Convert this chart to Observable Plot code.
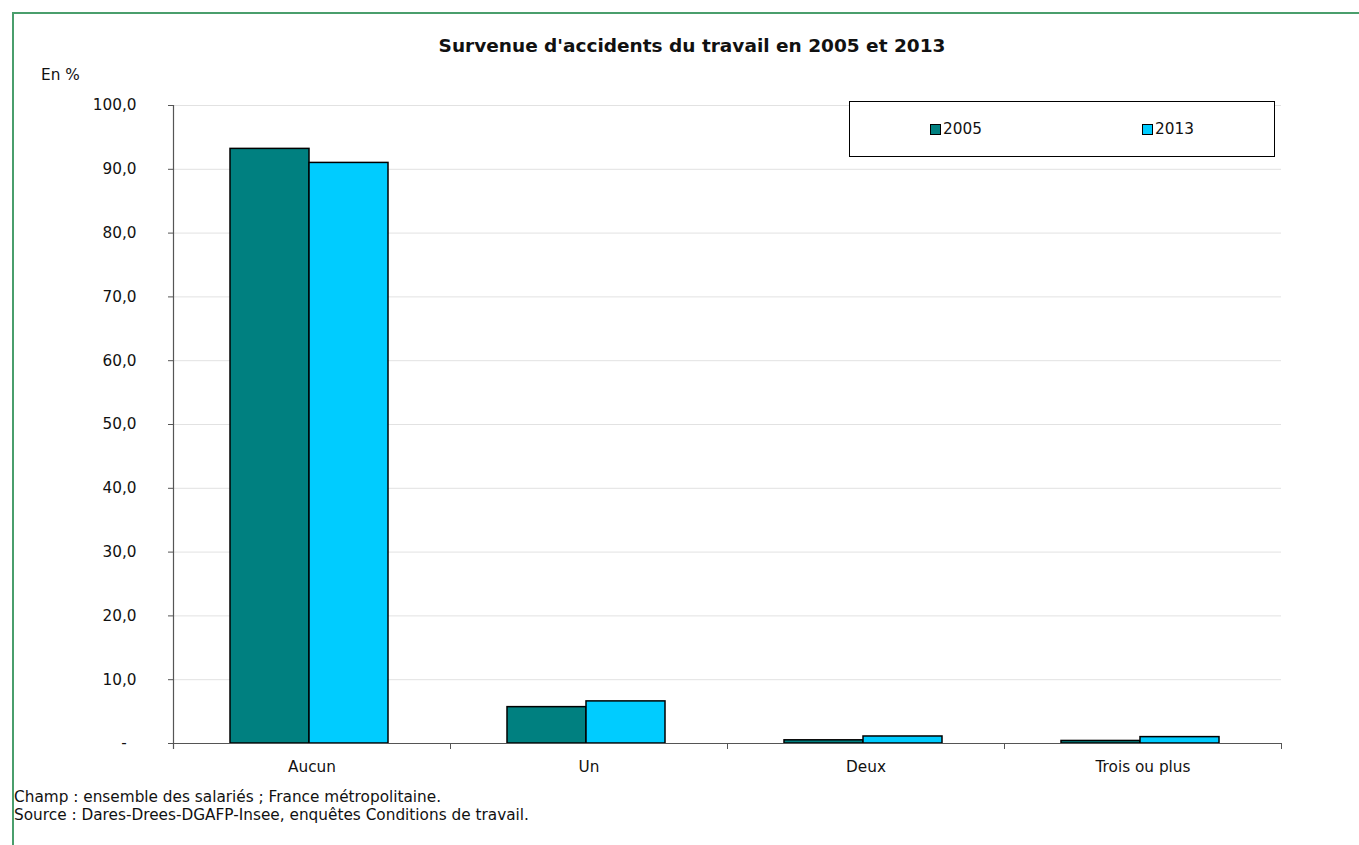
<!DOCTYPE html>
<html>
<head>
<meta charset="utf-8">
<script src="https://cdn.jsdelivr.net/npm/d3@7"></script>
<script src="https://cdn.jsdelivr.net/npm/@observablehq/plot@0.6"></script>
<style>
  html, body { margin: 0; padding: 0; overflow: hidden; background: #fff; }
  #wrap { position: relative; width: 1359px; height: 845px; font-family: "DejaVu Sans", Verdana, sans-serif; color: #111; }
  #wrap svg { position: absolute; left: 0; top: 0; }
  .abs { position: absolute; white-space: nowrap; }
  #title { left: 692px; top: 35px; transform: translateX(-50%); font-weight: bold; font-size: 18.5px; line-height: 22px; }
  #unit { left: 41px; top: 66px; font-size: 15.3px; line-height: 18px; }
  #legend { left: 849px; top: 101px; width: 424px; height: 54px; border: 1px solid #000; background: #fff; }
  .sw { position: absolute; top: 22px; width: 9px; height: 9px; border: 1px solid #000; }
  .lt { position: absolute; top: 18px; font-size: 15.3px; line-height: 18px; }
  .foot { left: 14px; font-size: 15.3px; line-height: 18px; }
  .gb { position: absolute; background: #4a9e6c; }
</style>
</head>
<body>
<div id="wrap"></div>
<script>
// ---- data ----
const categories = ["Aucun", "Un", "Deux", "Trois ou plus"];
const years = ["2005", "2013"];
const values2005 = [93.2, 5.7, 0.5, 0.4];
const values2013 = [91.0, 6.6, 1.1, 1.0];
const yTicks = [0, 10, 20, 30, 40, 50, 60, 70, 80, 90, 100];
const colors = ["#008080", "#00CCFF"];

const title = "Survenue d'accidents du travail en 2005 et 2013";
const unitLabel = "En %";
const notes = [
  "Champ : ensemble des salariés ; France métropolitaine.",
  "Source : Dares-Drees-DGAFP-Insee, enquêtes Conditions de travail."
];

const data = categories.flatMap((c, i) => [
  {cat: c, year: years[0], value: values2005[i]},
  {cat: c, year: years[1], value: values2013[i]}
]);

const W = 1359, H = 845;
const mTop = 105, mBottom = 102, mLeft = 172, mRight = 78;
const innerH = H - mTop - mBottom;
const axisColor = "#555";

const fmt = d => d === 0 ? "-\u00a0\u00a0" : d.toFixed(1).replace(".", ",");

const chart = Plot.plot({
  width: W,
  height: H,
  marginTop: mTop,
  marginBottom: mBottom,
  marginLeft: mLeft,
  marginRight: mRight,
  style: {background: "none", fontFamily: "DejaVu Sans, Verdana, sans-serif", fontSize: "15.3px", color: "#111"},
  fx: {domain: categories, padding: 0},
  x: {domain: years, paddingInner: 0, paddingOuter: 0.744, align: 0.48, axis: null},
  y: {domain: [0, 100]},
  color: {domain: years, range: colors},
  marks: [
    Plot.gridY(yTicks, {stroke: "#e2e2e2", strokeOpacity: 1}),
    Plot.barY(data, {fx: "cat", x: "year", y: "value", fill: "year", stroke: "#000", strokeWidth: 1.5}),
    Plot.ruleY([0], {stroke: axisColor, strokeWidth: 1.2}),
    Plot.frame({anchor: "left", facetAnchor: "left", stroke: axisColor, strokeWidth: 1.2, insetBottom: -5}),
    Plot.frame({anchor: "left", stroke: axisColor, strokeWidth: 1, insetTop: innerH, insetBottom: -5}),
    Plot.frame({anchor: "right", facetAnchor: "right", stroke: axisColor, strokeWidth: 1, insetTop: innerH, insetBottom: -5}),
    Plot.axisY(yTicks, {tickSize: 5, tickPadding: 32, tickFormat: fmt, stroke: axisColor, fontSize: 15.3, label: null}),
    Plot.axisFx({anchor: "bottom", tickSize: 0, tickPadding: 18, fontSize: 15.3, label: null})
  ]
});

const wrap = document.getElementById("wrap");
wrap.appendChild(chart);

function add(html) { wrap.insertAdjacentHTML("beforeend", html); }
add(`<div class="gb" style="left:12px;top:12px;width:1347px;height:2px"></div>`);
add(`<div class="gb" style="left:12px;top:12px;width:2px;height:833px"></div>`);
add(`<div class="abs" id="title"></div>`);
document.getElementById("title").textContent = title;
add(`<div class="abs" id="unit"></div>`);
document.getElementById("unit").textContent = unitLabel;

add(`<div class="abs" id="legend">
  <div class="sw" style="left:80px;background:${colors[0]}"></div><div class="lt" style="left:93px">${years[0]}</div>
  <div class="sw" style="left:292px;background:${colors[1]}"></div><div class="lt" style="left:305px">${years[1]}</div>
</div>`);

notes.forEach((t, i) => {
  const d = document.createElement("div");
  d.className = "abs foot";
  d.style.top = (788 + i * 18) + "px";
  d.textContent = t;
  wrap.appendChild(d);
});
</script>
</body>
</html>
